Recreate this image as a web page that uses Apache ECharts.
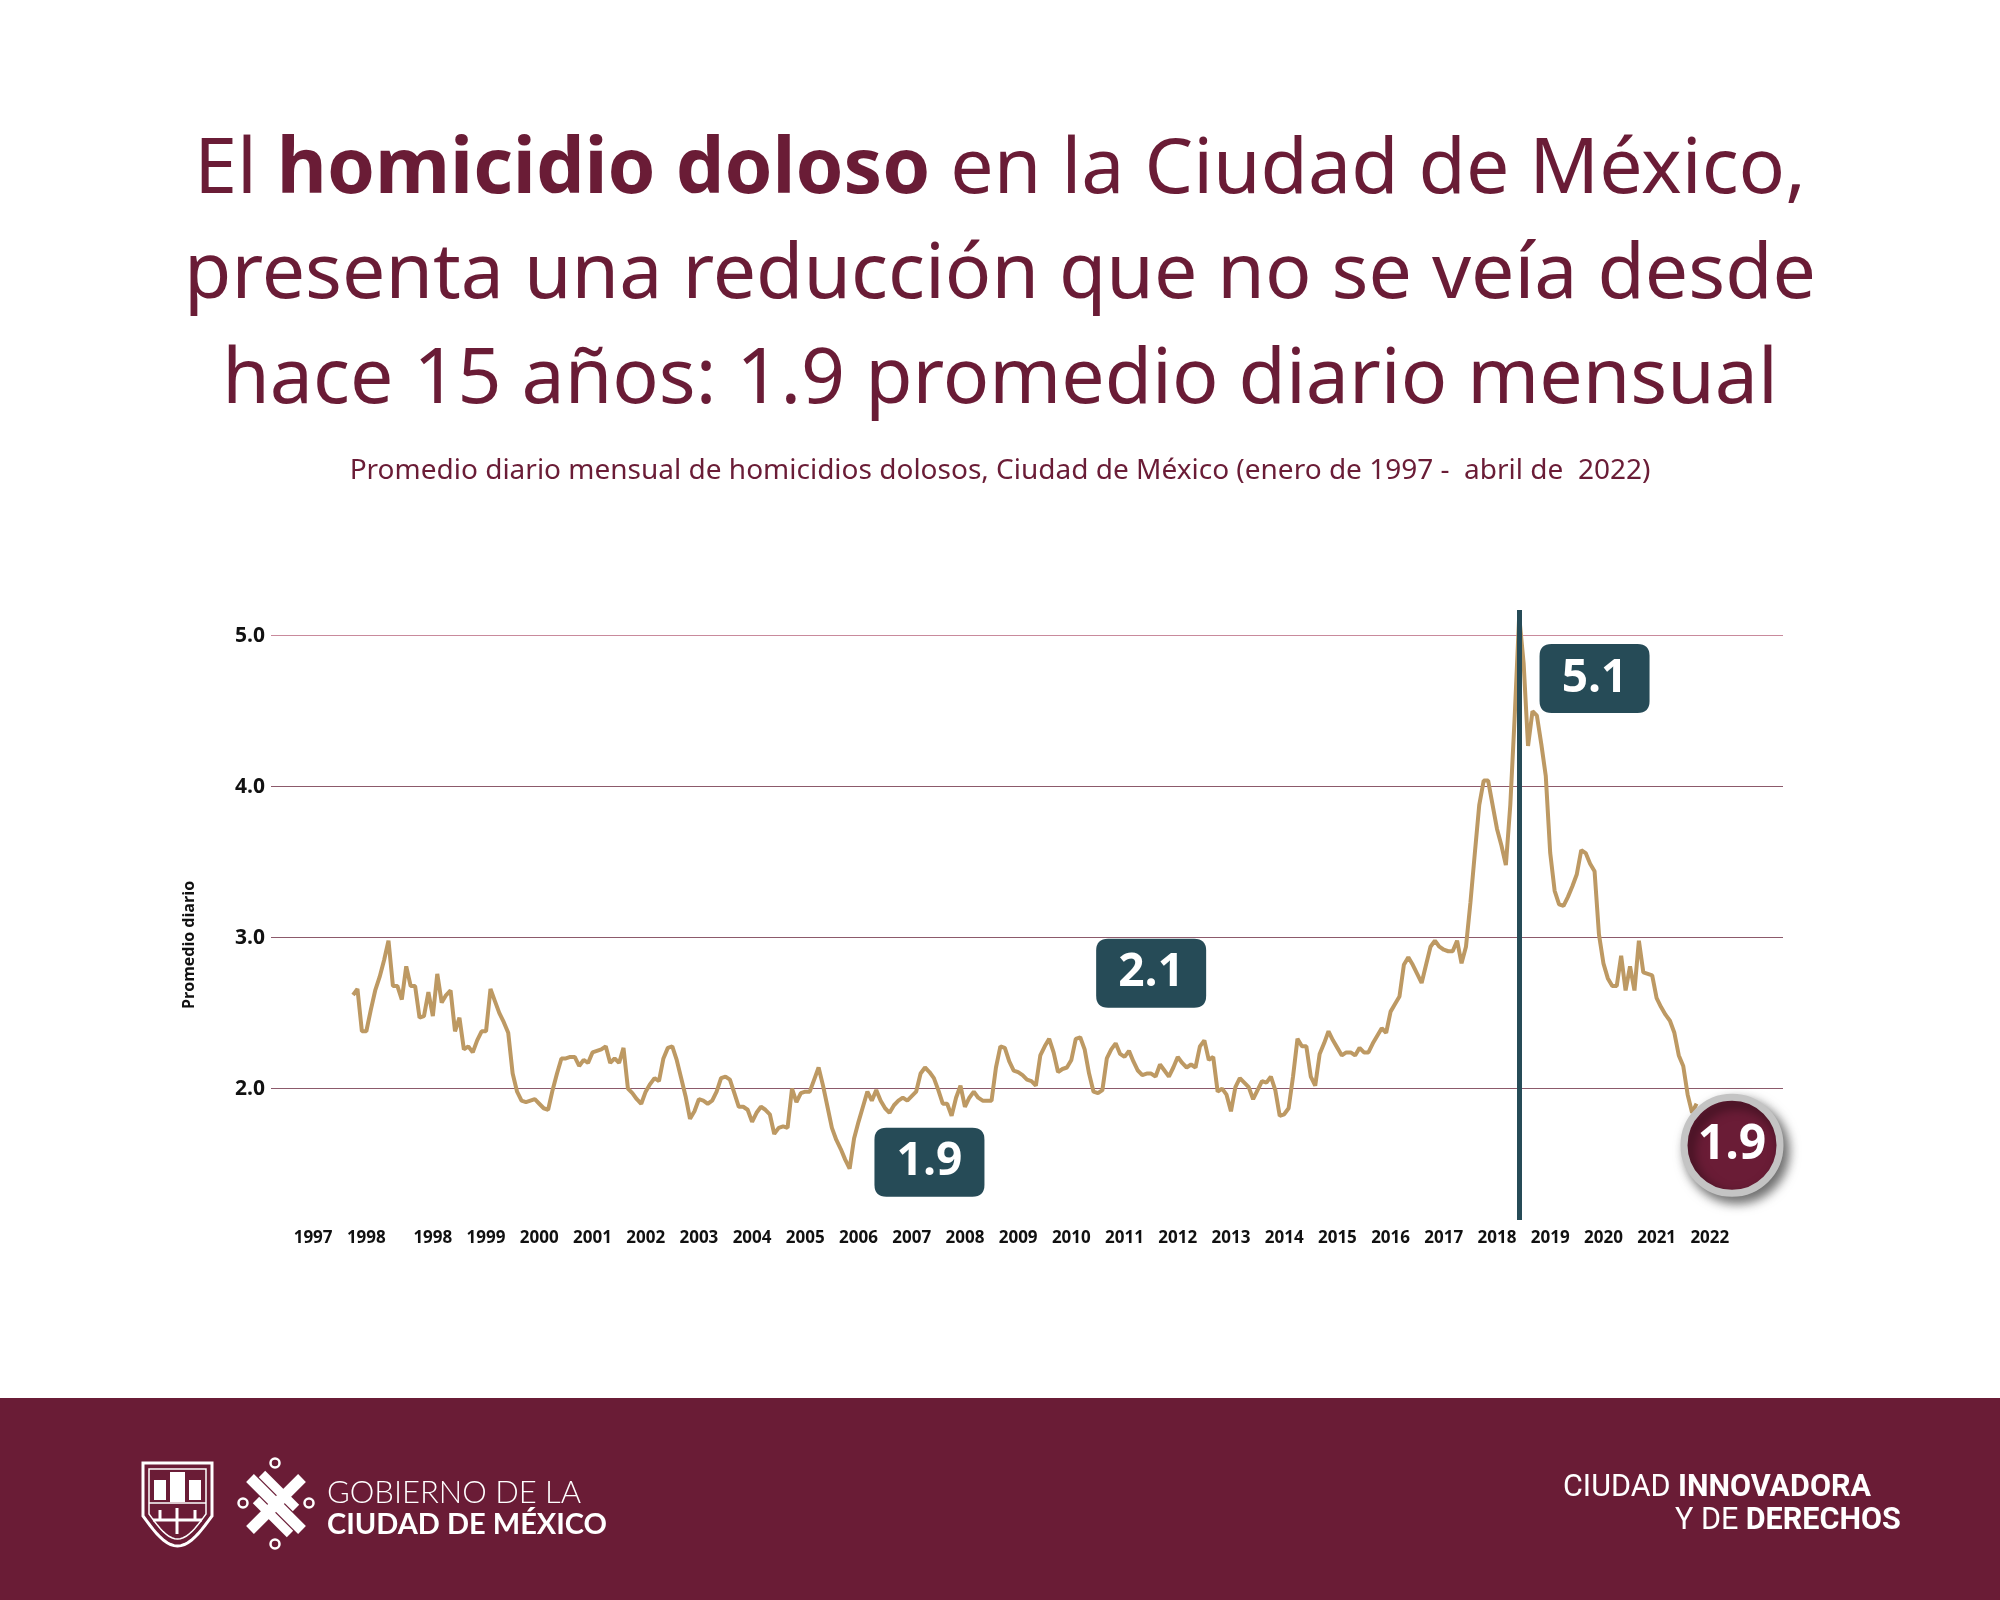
<!DOCTYPE html>
<html><head><meta charset="utf-8">
<script src="https://cdn.jsdelivr.net/npm/echarts@6/dist/echarts.min.js"></script>
<style>html,body{margin:0;padding:0;background:#fff}#c{width:2000px;height:1600px}</style>
</head><body><div id="c"></div>
<script>
// ---------- DATA ----------
// category axis: months, first category and how many
const firstMonth = [1995, 7];
const monthCount = 341;
// series starts in January 1997 (monthly daily-average of homicidios dolosos)
const dataStart = [1997, 1];
const y1997 = [2.62, 2.66, 2.38, 2.38, 2.52, 2.65, 2.74, 2.85, 2.98, 2.68, 2.68, 2.59];
const y1998 = [2.81, 2.68, 2.68, 2.47, 2.48, 2.64, 2.48, 2.76, 2.57, 2.62, 2.65, 2.38];
const y1999 = [2.47, 2.26, 2.28, 2.24, 2.32, 2.38, 2.38, 2.66, 2.58, 2.50, 2.44, 2.37];
const y2000 = [2.10, 1.98, 1.92, 1.91, 1.92, 1.93, 1.90, 1.87, 1.86, 1.99, 2.10, 2.20];
const y2001 = [2.20, 2.21, 2.21, 2.15, 2.19, 2.17, 2.24, 2.25, 2.26, 2.28, 2.17, 2.20];
const y2002 = [2.17, 2.27, 2.00, 1.97, 1.93, 1.90, 1.98, 2.03, 2.07, 2.05, 2.20, 2.27];
const y2003 = [2.28, 2.19, 2.07, 1.95, 1.80, 1.85, 1.93, 1.92, 1.90, 1.92, 1.98, 2.07];
const y2004 = [2.08, 2.06, 1.97, 1.88, 1.88, 1.86, 1.78, 1.84, 1.88, 1.86, 1.83, 1.70];
const y2005 = [1.74, 1.75, 1.74, 2.00, 1.91, 1.97, 1.98, 1.98, 2.06, 2.14, 2.02, 1.88];
const y2006 = [1.74, 1.66, 1.60, 1.53, 1.47, 1.67, 1.78, 1.88, 1.98, 1.92, 1.99, 1.92];
const y2007 = [1.87, 1.84, 1.89, 1.92, 1.94, 1.92, 1.95, 1.98, 2.10, 2.14, 2.11, 2.07];
const y2008 = [1.99, 1.90, 1.90, 1.82, 1.94, 2.02, 1.88, 1.94, 1.98, 1.94, 1.92, 1.92];
const y2009 = [1.92, 2.14, 2.28, 2.27, 2.18, 2.12, 2.11, 2.09, 2.06, 2.05, 2.02, 2.22];
const y2010 = [2.28, 2.33, 2.24, 2.11, 2.13, 2.14, 2.19, 2.33, 2.34, 2.26, 2.10, 1.98];
const y2011 = [1.97, 1.99, 2.20, 2.26, 2.30, 2.23, 2.21, 2.25, 2.18, 2.12, 2.09, 2.10];
const y2012 = [2.10, 2.08, 2.16, 2.12, 2.08, 2.14, 2.21, 2.17, 2.14, 2.16, 2.14, 2.28];
const y2013 = [2.32, 2.19, 2.21, 1.98, 2.00, 1.96, 1.85, 2.01, 2.07, 2.04, 2.01, 1.93];
const y2014 = [1.99, 2.05, 2.04, 2.08, 1.99, 1.82, 1.83, 1.87, 2.08, 2.33, 2.28, 2.28];
const y2015 = [2.08, 2.02, 2.23, 2.30, 2.38, 2.32, 2.27, 2.22, 2.24, 2.24, 2.22, 2.27];
const y2016 = [2.24, 2.24, 2.30, 2.35, 2.40, 2.37, 2.51, 2.56, 2.61, 2.82, 2.87, 2.82];
const y2017 = [2.76, 2.70, 2.82, 2.94, 2.98, 2.94, 2.92, 2.91, 2.91, 2.98, 2.83, 2.94];
const y2018 = [3.23, 3.56, 3.88, 4.04, 4.04, 3.88, 3.72, 3.61, 3.48, 3.88, 4.47, 5.13];
const y2019 = [4.82, 4.27, 4.50, 4.47, 4.28, 4.07, 3.56, 3.31, 3.22, 3.21, 3.27, 3.34];
const y2020 = [3.42, 3.58, 3.56, 3.49, 3.44, 3.02, 2.83, 2.73, 2.68, 2.68, 2.88, 2.65];
const y2021 = [2.81, 2.65, 2.98, 2.77, 2.76, 2.75, 2.60, 2.54, 2.49, 2.45, 2.37, 2.22];
const y2022 = [2.15, 1.96, 1.84, 1.90];

// x tick labels: category -> text (as printed in the original)
const xTickLabels = {
  '1996-04': '1997', '1997-04': '1998', '1998-07': '1998', '1999-07': '1999',
  '2000-07': '2000', '2001-07': '2001', '2002-07': '2002', '2003-07': '2003',
  '2004-07': '2004', '2005-07': '2005', '2006-07': '2006', '2007-07': '2007',
  '2008-07': '2008', '2009-07': '2009', '2010-07': '2010', '2011-07': '2011',
  '2012-07': '2012', '2013-07': '2013', '2014-07': '2014', '2015-07': '2015',
  '2016-07': '2016', '2017-07': '2017', '2018-07': '2018', '2019-07': '2019',
  '2020-07': '2020', '2021-07': '2021', '2022-07': '2022'
};
const yTicks = [2, 3, 4, 5];
const changeMonth = '2018-12';
// annotation callouts [label, category, value-level, kind]
const callouts = [
  ['5.1', '2020-05', 4.717, 'box'],
  ['2.1', '2012-01', 2.764, 'box'],
  ['1.9', '2007-11', 1.512, 'box'],
  ['1.9', '2022-12', 1.625, 'circle']
];

// ---------- BUILD ----------
function key(y, m) { return y + '-' + String(m).padStart(2, '0'); }
const categories = [];
{ let y = firstMonth[0], m = firstMonth[1];
  for (let i = 0; i < monthCount; i++) { categories.push(key(y, m)); m++; if (m > 12) { m = 1; y++; } } }
const allValues = [].concat(y1997, y1998, y1999, y2000, y2001, y2002, y2003, y2004, y2005, y2006,
  y2007, y2008, y2009, y2010, y2011, y2012, y2013, y2014, y2015, y2016, y2017, y2018, y2019,
  y2020, y2021, y2022);
const valueByMonth = {};
{ let y = dataStart[0], m = dataStart[1];
  allValues.forEach(v => { valueByMonth[key(y, m)] = v; m++; if (m > 12) { m = 1; y++; } }); }
const seriesData = categories.map(c => (c in valueByMonth ? valueByMonth[c] : null));

const MAROON = '#6a1c36';
const TEAL = '#264b57';
const boxPath = 'path://M12,0 H98 Q110,0 110,12 V57 Q110,69 98,69 H12 Q0,69 0,57 V12 Q0,0 12,0 Z';

const markPointData = callouts.map(([t, c, v, kind]) => {
  const base = {
    coord: [c, v],
    label: { show: true, position: 'inside', formatter: t, color: '#fff', fontSize: 46,
      fontWeight: 'bold', fontFamily: 'Open Sans' }
  };
  if (kind === 'box') {
    base.symbol = boxPath; base.symbolSize = [110, 69];
    base.itemStyle = { color: TEAL };
  } else {
    base.symbol = 'circle'; base.symbolSize = 96;
    base.itemStyle = { color: MAROON, borderColor: '#c4c4c4', borderWidth: 7,
      shadowBlur: 12, shadowColor: 'rgba(0,0,0,0.55)', shadowOffsetX: 5, shadowOffsetY: 6 };
    base.label.fontSize = 48;
  }
  return base;
});

const W = '#fff';
function shieldPts(x0, x1, y0, y1, yb) {
  const pts = [[x0, y0], [x1, y0], [x1, y1]];
  const cx = (x0 + x1) / 2;
  for (let k = 1; k < 10; k++) {
    const t = k / 10;
    pts.push([x1 - (x1 - cx) * t, y1 + (yb - y1) * Math.sin(t * Math.PI / 2)]);
  }
  pts.push([cx, yb]);
  for (let k = 9; k > 0; k--) {
    const t = k / 10;
    pts.push([x0 + (cx - x0) * t, y1 + (yb - y1) * Math.sin(t * Math.PI / 2)]);
  }
  pts.push([x0, y1]);
  return pts;
}

const chart = echarts.init(document.getElementById('c'), null, { renderer: 'canvas' });
chart.setOption({
  animation: false,
  backgroundColor: '#fff',
  title: [
    {
      left: 'center', top: 114,
      text: '{r|El }{b|homicidio doloso}{r| en la Ciudad de México,}\n{r|presenta una reducción que no se veía desde}\n{r|hace 15 años: 1.9 promedio diario mensual}',
      textStyle: {
        fontWeight: 'normal', align: 'center',
        rich: {
          r: { fontFamily: 'Noto Sans', fontSize: 77, fontWeight: 'normal', color: MAROON, lineHeight: 105, align: 'center' },
          b: { fontFamily: 'Noto Sans', fontSize: 77, fontWeight: 'bold', color: MAROON, lineHeight: 105, align: 'center' }
        }
      }
    },
    {
      left: 'center', top: 448,
      text: 'Promedio diario mensual de homicidios dolosos, Ciudad de México (enero de 1997 -  abril de  2022)',
      textStyle: { fontFamily: 'Noto Sans', fontSize: 28, fontWeight: 'normal', color: MAROON, lineHeight: 36 }
    }
  ],
  grid: { left: 271, right: 217, top: 610, bottom: 380, containLabel: false },
  xAxis: {
    type: 'category', data: categories, boundaryGap: true,
    axisLine: { show: false }, axisTick: { show: false }, splitLine: { show: false },
    axisLabel: {
      interval: (i, v) => v in xTickLabels,
      formatter: v => xTickLabels[v] || '',
      fontFamily: 'Open Sans', fontSize: 17, fontWeight: 'bold', color: '#111', margin: 10
    }
  },
  yAxis: {
    type: 'value', min: 1.13, max: 5.17,
    axisLine: { show: false }, axisTick: { show: false }, axisLabel: { show: false },
    splitLine: { show: false }
  },
  series: [
    {
      name: 'grid', type: 'line', data: [], silent: true,
      markLine: {
        z: 1, silent: true, symbol: ['none', 'none'], animation: false,
        label: { show: true, position: 'start', distance: 6, formatter: p => Number(p.value).toFixed(1),
          fontFamily: 'Open Sans', fontSize: 21, fontWeight: 'bold', color: '#111' },
        data: yTicks.map(v => ({ yAxis: v, lineStyle: { type: 'solid', width: 1.2,
          color: v === 5 ? '#c98a9c' : '#8c5a6b' } })),
        emphasis: { disabled: true }
      }
    },
    {
      name: 'Promedio diario', type: 'line', data: seriesData, z: 2,
      showSymbol: false, symbol: 'none', connectNulls: false, silent: true,
      lineStyle: { color: '#bd9963', width: 4 }, itemStyle: { color: '#bd9963' },
      markLine: {
        silent: true, symbol: ['none', 'none'], animation: false, label: { show: false },
        lineStyle: { type: 'solid', color: TEAL, width: 5 },
        data: [{ xAxis: changeMonth }],
        emphasis: { disabled: true }
      },
      markPoint: { silent: true, animation: false, data: markPointData }
    }
  ],
  graphic: [
    { type: 'text', x: 189, y: 945, rotation: Math.PI / 2,
      style: { text: 'Promedio diario', fontFamily: 'Open Sans', fontSize: 16, fontWeight: 'bold',
        fill: '#111', textAlign: 'center', textVerticalAlign: 'middle' } },
    { type: 'rect', shape: { x: 0, y: 1398, width: 2000, height: 202 }, style: { fill: MAROON } },
    // shield
    { type: 'polygon', shape: { points: shieldPts(143, 212, 1463, 1516, 1546) },
      style: { fill: 'none', stroke: W, lineWidth: 3 } },
    { type: 'polygon', shape: { points: shieldPts(149, 206, 1469, 1514, 1539) },
      style: { fill: 'none', stroke: W, lineWidth: 1.5 } },
    { type: 'line', shape: { x1: 149, y1: 1503, x2: 206, y2: 1503 }, style: { stroke: W, lineWidth: 1.5 } },
    { type: 'rect', shape: { x: 170, y: 1472, width: 15, height: 30 }, style: { fill: W } },
    { type: 'rect', shape: { x: 154, y: 1480, width: 12, height: 20 }, style: { fill: W } },
    { type: 'rect', shape: { x: 189, y: 1480, width: 12, height: 20 }, style: { fill: W } },
    { type: 'line', shape: { x1: 153, y1: 1520, x2: 202, y2: 1520 }, style: { stroke: W, lineWidth: 3 } },
    { type: 'line', shape: { x1: 160, y1: 1510, x2: 160, y2: 1520 }, style: { stroke: W, lineWidth: 3 } },
    { type: 'line', shape: { x1: 177, y1: 1508, x2: 177, y2: 1534 }, style: { stroke: W, lineWidth: 3 } },
    { type: 'line', shape: { x1: 195, y1: 1510, x2: 195, y2: 1520 }, style: { stroke: W, lineWidth: 3 } },
    // knot logo
    { type: 'line', shape: { x1: 250, y1: 1478, x2: 302, y2: 1530 }, style: { stroke: W, lineWidth: 11 } },
    { type: 'line', shape: { x1: 302, y1: 1478, x2: 250, y2: 1530 }, style: { stroke: W, lineWidth: 11 } },
    { type: 'line', shape: { x1: 262, y1: 1474, x2: 296, y2: 1508 }, style: { stroke: W, lineWidth: 9 } },
    { type: 'line', shape: { x1: 256, y1: 1500, x2: 290, y2: 1534 }, style: { stroke: W, lineWidth: 9 } },
    { type: 'circle', shape: { cx: 275, cy: 1463, r: 4.5 }, style: { fill: 'none', stroke: W, lineWidth: 2.5 } },
    { type: 'circle', shape: { cx: 243, cy: 1503, r: 4.5 }, style: { fill: 'none', stroke: W, lineWidth: 2.5 } },
    { type: 'circle', shape: { cx: 309, cy: 1503, r: 4.5 }, style: { fill: 'none', stroke: W, lineWidth: 2.5 } },
    { type: 'circle', shape: { cx: 275, cy: 1544, r: 4.5 }, style: { fill: 'none', stroke: W, lineWidth: 2.5 } },
    { type: 'text', x: 327, y: 1493,
      style: { text: 'GOBIERNO DE LA', fontFamily: 'Lato', fontSize: 31, fontWeight: 300, fill: W,
        textVerticalAlign: 'middle' } },
    { type: 'text', x: 327, y: 1525,
      style: { text: 'CIUDAD DE MÉXICO', fontFamily: 'Lato', fontSize: 29, fontWeight: 'bold', fill: W,
        textVerticalAlign: 'middle' } },
    { type: 'text', x: 1563, y: 1488,
      style: { text: '{l|CIUDAD }{b|INNOVADORA}', fill: W, textVerticalAlign: 'middle',
        rich: { l: { fontFamily: 'Roboto', fontSize: 30.5, fill: W },
                b: { fontFamily: 'Roboto', fontSize: 30.5, fontWeight: 'bold', fill: W } } } },
    { type: 'text', x: 1675, y: 1521,
      style: { text: '{l|Y DE }{b|DERECHOS}', fill: W, textVerticalAlign: 'middle',
        rich: { l: { fontFamily: 'Roboto', fontSize: 30.5, fill: W },
                b: { fontFamily: 'Roboto', fontSize: 30.5, fontWeight: 'bold', fill: W } } } }
  ]
});
</script></body></html>
